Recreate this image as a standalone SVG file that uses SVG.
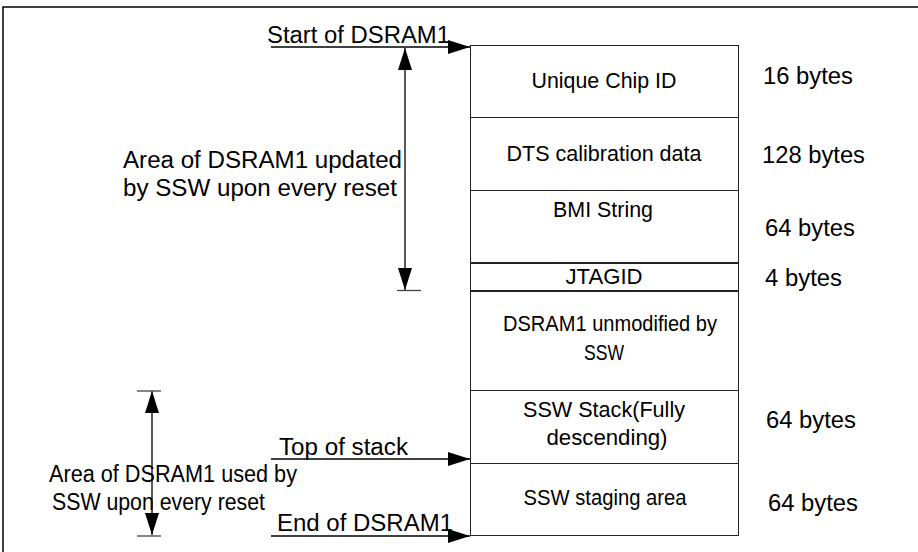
<svg xmlns="http://www.w3.org/2000/svg" width="918" height="552" viewBox="0 0 918 552">
<style>
text { font-family: "Liberation Sans", Arial, sans-serif; fill: #000; }
.lbl { font-size: 22px; text-anchor: middle; }
.side { font-size: 23px; }
.cell { fill: #fff; stroke: #222; stroke-width: 1; }
.sep { stroke: #222; stroke-width: 2; }
.con { stroke: #000; stroke-width: 1.3; fill: none; }
.tick { stroke: #444; stroke-width: 1.3; }
.frame { stroke: #000; stroke-width: 1.5; fill: none; }
</style>
<defs>
<marker id="ah" viewBox="0 0 22 14" refX="22" refY="7" markerWidth="22" markerHeight="14" markerUnits="userSpaceOnUse" orient="auto-start-reverse">
<path d="M0,0 L22,7 L0,14 Z" fill="#000"/>
</marker>
</defs>
<rect width="918" height="552" fill="#fff"/>
<path class="frame" d="M3,552 V7 H918"/>

<g id="node-chipid">
<rect class="cell" x="470.5" y="45.5" width="268" height="72"/>
<text class="lbl" x="604" y="88" textLength="145" lengthAdjust="spacingAndGlyphs">Unique Chip ID</text>
</g>
<g id="node-dts">
<rect class="cell" x="470.5" y="117.5" width="268" height="73"/>
<text class="lbl" x="604" y="161" textLength="195" lengthAdjust="spacingAndGlyphs">DTS calibration data</text>
</g>
<g id="node-bmi">
<rect class="cell" x="470.5" y="190.5" width="268" height="72.5"/>
<text class="lbl" x="603" y="217" textLength="100" lengthAdjust="spacingAndGlyphs">BMI String</text>
</g>
<g id="node-jtagid">
<rect class="cell" x="470.5" y="263" width="268" height="28"/>
<line class="sep" x1="470" y1="263" x2="739" y2="263"/>
<line class="sep" x1="470" y1="291" x2="739" y2="291"/>
<text class="lbl" x="604" y="284" textLength="77" lengthAdjust="spacingAndGlyphs">JTAGID</text>
</g>
<g id="node-unmodified">
<rect class="cell" x="470.5" y="291.5" width="268" height="99"/>
<text class="lbl" x="610" y="331" textLength="214" lengthAdjust="spacingAndGlyphs">DSRAM1 unmodified by</text>
<text class="lbl" x="604" y="360" textLength="40" lengthAdjust="spacingAndGlyphs">SSW</text>
</g>
<g id="node-stack">
<rect class="cell" x="470.5" y="390.5" width="268" height="73"/>
<text class="lbl" x="604" y="417" textLength="162" lengthAdjust="spacingAndGlyphs">SSW Stack(Fully</text>
<text class="lbl" x="607" y="445" textLength="121" lengthAdjust="spacingAndGlyphs">descending)</text>
</g>
<g id="node-staging">
<rect class="cell" x="470.5" y="463.5" width="268" height="72"/>
<text class="lbl" x="605" y="505" textLength="163" lengthAdjust="spacingAndGlyphs">SSW staging area</text>
</g>

<g id="sizes">
<text class="side" x="763" y="84" textLength="90" lengthAdjust="spacingAndGlyphs">16 bytes</text>
<text class="side" x="762" y="163" textLength="103" lengthAdjust="spacingAndGlyphs">128 bytes</text>
<text class="side" x="765" y="236" textLength="90" lengthAdjust="spacingAndGlyphs">64 bytes</text>
<text class="side" x="765" y="286" textLength="77" lengthAdjust="spacingAndGlyphs">4 bytes</text>
<text class="side" x="766" y="428" textLength="90" lengthAdjust="spacingAndGlyphs">64 bytes</text>
<text class="side" x="768" y="511" textLength="90" lengthAdjust="spacingAndGlyphs">64 bytes</text>
</g>

<g id="annotations">
<text class="side" x="267" y="43" textLength="183" lengthAdjust="spacingAndGlyphs">Start of DSRAM1</text>
<text class="side" x="123" y="168" textLength="279" lengthAdjust="spacingAndGlyphs">Area of DSRAM1 updated</text>
<text class="side" x="123" y="196" textLength="274" lengthAdjust="spacingAndGlyphs">by SSW upon every reset</text>
<text class="side" x="279" y="455" textLength="129" lengthAdjust="spacingAndGlyphs">Top of stack</text>
<text class="side" x="277" y="531" textLength="176" lengthAdjust="spacingAndGlyphs">End of DSRAM1</text>
<text class="side" x="49" y="482" textLength="248" lengthAdjust="spacingAndGlyphs">Area of DSRAM1 used by</text>
<text class="side" x="52" y="510" textLength="213" lengthAdjust="spacingAndGlyphs">SSW upon every reset</text>
</g>

<g id="connectors">
<line class="con" x1="271" y1="47" x2="470" y2="47" marker-end="url(#ah)"/>
<line class="con" x1="271" y1="459" x2="470" y2="459" marker-end="url(#ah)"/>
<line class="con" x1="271" y1="536" x2="470" y2="536" marker-end="url(#ah)"/>
<line class="con" x1="405" y1="48" x2="405" y2="290" marker-start="url(#ah)" marker-end="url(#ah)"/>
<line class="tick" x1="397" y1="290.5" x2="421" y2="290.5"/>
<line class="con" x1="152" y1="391" x2="152" y2="535" marker-start="url(#ah)" marker-end="url(#ah)"/>
<line class="tick" x1="137" y1="391" x2="161" y2="391"/>
<line class="tick" x1="137" y1="536" x2="161" y2="536"/>
</g>
</svg>
